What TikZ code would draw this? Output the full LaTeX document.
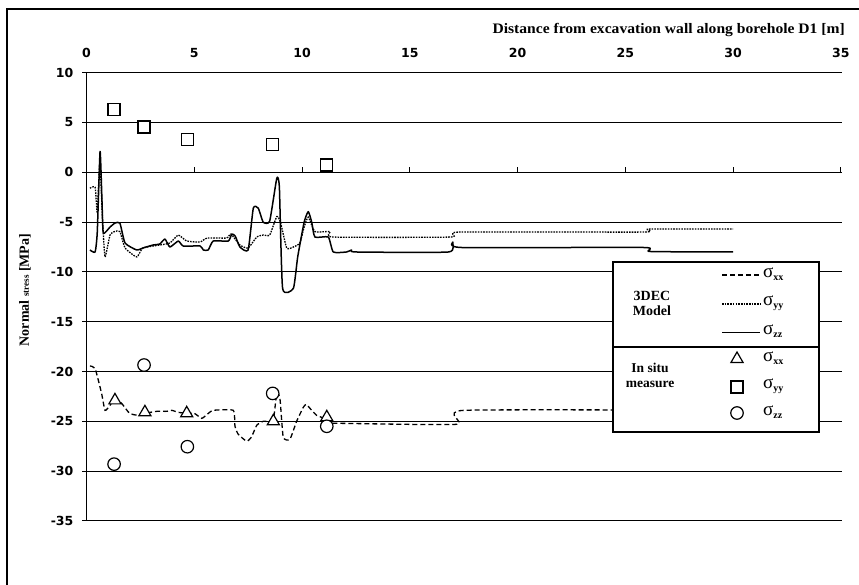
\documentclass[tikz,border=0pt]{standalone}
\usepackage{fontspec}
\setmainfont{Liberation Serif}
\newfontfamily\numfont{DejaVu Sans}
\usetikzlibrary{shapes.geometric}
\newcommand\mysig[1]{σ\raisebox{-0.4ex}{\fontsize{10}{10}\selectfont\bfseries #1}}
\begin{document}
\begin{tikzpicture}[x=1pt,y=-1pt,
  gridline/.style={line width=0.9pt,black},
  ticklab/.style={font=\numfont\bfseries\fontsize{12.5}{14}\selectfont, inner sep=0pt},
  sxx/.style={line width=1.3pt, dash pattern=on 5pt off 3pt},
  syy/.style={line width=1.3pt, dash pattern=on 1.6pt off 1.1pt},
  szz/.style={line width=1.5pt},
  sqmark/.style={draw, line width=1.2pt, fill=white, rectangle, minimum size=12pt, inner sep=0pt},
  cimark/.style={draw, line width=1.2pt, fill=white, circle, minimum size=12.5pt, inner sep=0pt},
  trmark/.style={draw, line width=1.2pt, fill=white, regular polygon, regular polygon sides=3, minimum size=14pt, inner sep=0pt},
  legtext/.style={font=\bfseries\fontsize{14}{15}\selectfont, align=center},
  sigtext/.style={font=\fontsize{19}{19}\selectfont, anchor=west, inner sep=0pt},
]
\useasboundingbox (0,0) rectangle (859,585);
\fill[white] (0,0) rectangle (859,585);
\draw[line width=1.3pt] (7,590) -- (7,9) -- (865,9);

\node[anchor=east, font=\bfseries\fontsize{14.5}{16}\selectfont, inner sep=0pt] (title) at (845,30)
  {\scalebox{1.075}[1]{Distance from excavation wall along borehole D1 [m]}};
\node[rotate=90, font=\bfseries\fontsize{14}{16}\selectfont] (ylab) at (25,290)
  {Normal {\fontsize{9}{10}\selectfont stress} [MPa]};

\begin{scope}[shift={(86.5pt,-172.3pt)}, x=21.55pt, y=9.96pt]
  \foreach \v in {10,5,-5,-10,-15,-20,-25,-30,-35}
    \draw[gridline] (-0.2,\v) -- (35.05,\v);
  \draw[line width=1.4pt] (-0.2,0) -- (35.05,0);
  \foreach \k in {5,10,...,35}
    \draw[line width=0.9pt] (\k,0) -- (\k,0.5);
  \draw[line width=1.3pt] (0,10) -- (0,-35);
  \foreach \k in {0,5,...,35}
    \node[ticklab] (xl\k) at (\k,11.95) {\k};
  \foreach \v in {10,5,0,-5,-10,-15,-20,-25,-30,-35}
    \node[ticklab, anchor=east] (yl\v) at (-0.6,\v) {\v};

  % 3DEC model sigma_zz (solid)
  \draw[szz, line join=round] plot[smooth, tension=0.3] coordinates {
    (0.16,-7.8) (0.4,-8.0) (0.5,-6) (0.63,2.1) (0.72,-3) (0.78,-6.1) (1.09,-5.5)
    (1.32,-5.1) (1.55,-5.1) (1.79,-7.1) (2.33,-7.8) (2.62,-7.6) (3.09,-7.3) (3.4,-7.2)
    (3.64,-6.7) (3.87,-7.5) (4.26,-6.9) (4.49,-7.4) (5.27,-7.4) (5.42,-7.8) (5.65,-7.8)
    (5.88,-6.9) (6.58,-6.9) (6.74,-6.2) (6.9,-6.4) (7.12,-7.5) (7.5,-7.8) (7.74,-3.6)
    (7.97,-3.6) (8.2,-5.0) (8.5,-4.9) (8.83,-0.6) (8.95,-1.5) (9.1,-11.65) (9.6,-11.65)
    (9.8,-8.5) (10.1,-5) (10.29,-3.95) (10.45,-5) (10.6,-6.5) (11.22,-6.5) (11.45,-8.0)
    (12.07,-8.0) (12.3,-7.8) (12.5,-8.0) (16.8,-8.0) (17.0,-7.0) (17.4,-7.55)
    (25.85,-7.55) (26.15,-7.95) (30,-8.0)};
  % 3DEC model sigma_yy (dotted)
  \draw[syy] plot[smooth, tension=0.3] coordinates {
    (0.16,-1.6) (0.4,-1.5) (0.5,-4) (0.62,1.0) (0.75,-5) (0.86,-8.5) (1.09,-6.3)
    (1.3,-5.95) (1.55,-5.95) (1.79,-7.6) (2.33,-8.5) (2.62,-7.6) (3.4,-7.3) (3.87,-7.1)
    (4.26,-6.3) (4.65,-6.9) (5.27,-7.0) (5.6,-6.6) (6.5,-6.6) (6.7,-6.2) (7.12,-7.3)
    (7.5,-7.6) (7.9,-6.5) (8.2,-6.3) (8.5,-6.3) (8.83,-4.45) (9.0,-5) (9.29,-7.6)
    (9.6,-7.5) (9.9,-7.1) (10.1,-5.5) (10.29,-4.5) (10.6,-5.95) (11.3,-5.95)
    (11.45,-6.5) (16.9,-6.5) (17.3,-6.0) (25.85,-6.0) (26.1,-5.7) (30,-5.7)};
  % 3DEC model sigma_xx (dashed)
  \draw[sxx] plot[smooth, tension=0.3] coordinates {
    (0.16,-19.45) (0.4,-19.7) (0.7,-22.2) (0.86,-23.9) (1.09,-23.4) (1.32,-22.7)
    (1.63,-23.2) (2.0,-24.2) (2.4,-24.4) (2.71,-24.2) (3.26,-24.0) (3.72,-24.0)
    (3.96,-23.9) (4.26,-24.1) (4.65,-24.2) (5.0,-24.2) (5.35,-24.7) (5.6,-24.3)
    (5.88,-23.9) (6.81,-23.9) (6.89,-25.5) (7.04,-26.3) (7.43,-27.0) (7.65,-26.6)
    (7.9,-25.4) (8.2,-25.0) (8.66,-24.9) (8.83,-22.1) (8.98,-22.8) (9.13,-26.6)
    (9.44,-26.8) (9.75,-25.0) (10.06,-23.6) (10.2,-23.3) (10.45,-23.9) (10.68,-24.4)
    (11.0,-24.7) (11.2,-25.3) (11.6,-25.2) (17.18,-25.3) (17.5,-23.9) (30,-23.9)};

  % in situ measurements
  \foreach \px/\py [count=\i] in {1.28/6.3, 2.67/4.55, 4.68/3.3, 8.64/2.8, 11.15/0.73}
    \node[sqmark] (sq\i) at (\px,\py) {};
  \foreach \px/\py [count=\i] in {1.32/-22.9, 2.71/-24.1, 4.65/-24.2, 8.67/-25.0, 11.15/-24.6}
    \node[trmark] (tr\i) at (\px,\py) {};
  \foreach \px/\py [count=\i] in {2.67/-19.35, 1.28/-29.3, 4.68/-27.55, 8.64/-22.2, 11.15/-25.5}
    \node[cimark] (ci\i) at (\px,\py) {};
\end{scope}

% legend
\draw[line width=1.3pt, fill=white] (613,262) rectangle (819,432);
\draw[line width=1.3pt] (613,347) -- (819,347);
\node[legtext] (lm) at (652,303) {3DEC\\Model};
\node[legtext, font=\bfseries\fontsize{13.5}{15}\selectfont] (li) at (650,375) {In situ\\measure};
\coordinate (la1) at (722,275); \coordinate (lb1) at (760,275);
\coordinate (la2) at (722,304); \coordinate (lb2) at (760,304);
\coordinate (la3) at (722,332); \coordinate (lb3) at (760,332);
\draw[sxx] (la1) -- (lb1);
\draw[syy] (la2) -- (lb2);
\draw[line width=0.9pt] (la3) -- (lb3);
\node[sigtext] (ls1) at (763,274) {\mysig{xx}};
\node[sigtext] (ls2) at (763,303) {\mysig{yy}};
\node[sigtext] (ls3) at (763,331) {\mysig{zz}};
\node[trmark] (lt) at (737,359) {};
\node[sqmark] (lq) at (737,387) {};
\node[cimark] (lc) at (737,413) {};
\node[sigtext] (ls4) at (763,358) {\mysig{xx}};
\node[sigtext] (ls5) at (763,386) {\mysig{yy}};
\node[sigtext] (ls6) at (763,412) {\mysig{zz}};
\end{tikzpicture}
\end{document}
